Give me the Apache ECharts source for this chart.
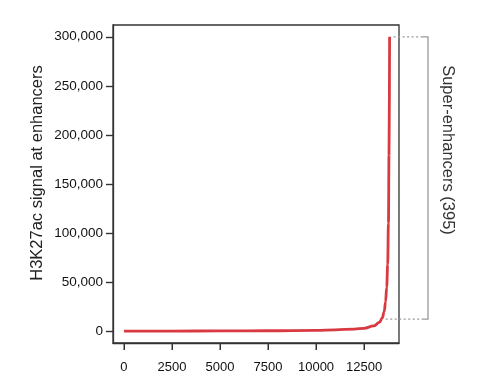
<!DOCTYPE html>
<html><head><meta charset="utf-8">
<script src="https://cdn.jsdelivr.net/npm/echarts@6/dist/echarts.min.js"></script>
<style>html,body{margin:0;padding:0;background:#fff}#c{width:477px;height:391px}</style>
</head><body><div id="c"></div>
<script>
// Enhancer rank (x) and H3K27ac signal (y)
var enhancerRank = [1, 2500, 5000, 7500, 10000, 11000, 12000, 12500, 13000, 13300, 13450, 13550, 13620, 13680, 13730, 13770, 13800, 13830];
var signalValue  = [0, 150, 300, 500, 900, 1400, 2200, 3000, 5400, 9000, 13500, 20000, 30000, 45000, 68000, 110000, 180000, 300000];
var xTicks = [0, 2500, 5000, 7500, 10000, 12500];
var yTicks = [0, 50000, 100000, 150000, 200000, 250000, 300000];
var yTitle = 'H3K27ac signal at enhancers';
var superCutoff = 12300;
var superCount = 395;

var chart = echarts.init(document.getElementById('c'), null, {renderer: 'canvas'});
var font = 'Liberation Sans, Arial, Helvetica, sans-serif';
var pts = enhancerRank.map(function (r, i) { return [r, signalValue[i]]; });
var yMin = -12000, yMax = 312000;

chart.setOption({
  animation: false,
  grid: {left: 113, top: 25, right: 78, bottom: 48, show: true, borderColor: '#333', borderWidth: 1.3, backgroundColor: 'transparent'},
  xAxis: {
    type: 'value', min: -570, max: 14320, position: 'bottom',
    axisLine: {show: true, onZero: false, lineStyle: {color: '#333', width: 1.3}},
    splitLine: {show: false},
    axisTick: {show: false},
    axisLabel: {customValues: xTicks, color: '#111', fontFamily: font, fontSize: 13, margin: 18,
      formatter: function (v) { return String(v); }}
  },
  yAxis: {
    type: 'value', min: yMin, max: yMax,
    axisLine: {show: true, onZero: false, lineStyle: {color: '#333', width: 1.3}},
    splitLine: {show: false},
    axisTick: {show: true, inside: false, length: 7, lineStyle: {color: '#333', width: 1.4}, customValues: yTicks},
    axisLabel: {customValues: yTicks, color: '#111', fontFamily: font, fontSize: 13.5, margin: 10,
      formatter: function (v) { return v.toLocaleString('en-US'); }}
  },
  series: [{
    type: 'line', data: pts, showSymbol: false, smooth: 0.4, smoothMonotone: 'x',
    lineStyle: {color: '#d93a42', width: 2.8}, clip: true
  }, {
    // x-axis tick marks placed through the axis scale
    type: 'custom', clip: false, silent: true, z: 50,
    data: xTicks.map(function (t) { return [t, yMin]; }),
    renderItem: function (params, api) {
      var p = api.coord([api.value(0), api.value(1)]);
      return {type: 'rect', shape: {x: Math.round(p[0]) - 0.5, y: p[1], width: 1.5, height: 7}, style: {fill: '#333'}};
    }
  }]
});

var maxVal = signalValue[signalValue.length - 1];
var lastRank = enhancerRank[enhancerRank.length - 1];
var pTop = chart.convertToPixel({gridIndex: 0}, [lastRank, maxVal]);
var pBot = chart.convertToPixel({gridIndex: 0}, [13420, superCutoff]);
var bx = 428;
chart.setOption({graphic: [
  {type: 'line', shape: {x1: pTop[0] + 4, y1: pTop[1], x2: bx - 6, y2: pTop[1]}, style: {stroke: '#999', lineWidth: 1.3, lineDash: [2, 2.5]}},
  {type: 'line', shape: {x1: pBot[0] + 4, y1: pBot[1], x2: bx - 6, y2: pBot[1]}, style: {stroke: '#999', lineWidth: 1.3, lineDash: [2, 2.5]}},
  {type: 'polyline', shape: {points: [[bx - 6, pTop[1]], [bx, pTop[1]], [bx, pBot[1]], [bx - 6, pBot[1]]]}, style: {stroke: '#999', lineWidth: 1.3, fill: null}},
  {type: 'text', x: 448, y: 150, rotation: -Math.PI / 2,
    style: {text: 'Super-enhancers (' + superCount + ')', fill: '#333', font: '16.5px ' + font, align: 'center', verticalAlign: 'middle'}},
  {type: 'text', x: 37, y: 173, rotation: Math.PI / 2,
    style: {text: yTitle, fill: '#222', font: '16.5px ' + font, align: 'center', verticalAlign: 'middle'}}
]});
</script></body></html>
